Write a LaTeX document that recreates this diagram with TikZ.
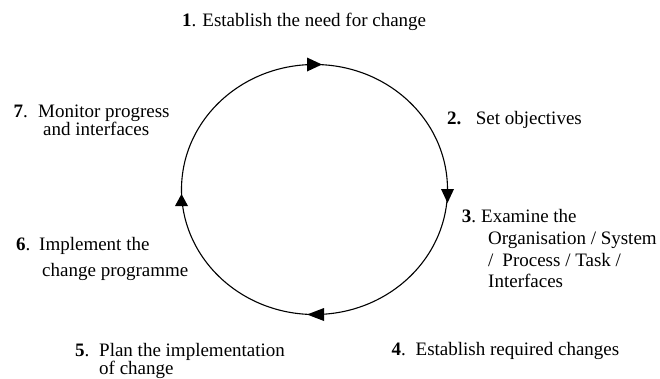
\documentclass[tikz,border=0pt]{standalone}
\usepackage{fontspec}
\setmainfont{Liberation Serif}
\begin{document}
\begin{tikzpicture}[x=1pt,y=-1pt,
  lbl/.style={anchor=base west, inner sep=0pt, font=\fontsize{19}{22}\selectfont},
  cyc/.style={line width=1.1pt},
  tip/.style={fill=black}]
\useasboundingbox (0,0) rectangle (660,378);
\coordinate (c) at (314.5,189.5);
\draw[cyc] (c) ellipse [x radius=133, y radius=125];
% arrowheads
\coordinate (t) at (314.5,64.5);
\coordinate (r) at (447.5,196);
\coordinate (b) at (315.5,314.5);
\coordinate (l) at (181.5,200);
\fill[tip] ([shift={(-7.5,-7)}]t) -- ([shift={(7.5,0)}]t) -- ([shift={(-7.5,7)}]t) -- cycle;
\fill[tip] ([shift={(-6.5,-7)}]r) -- ([shift={(6.5,-7)}]r) -- ([shift={(0,7)}]r) -- cycle;
\fill[tip] ([shift={(8.5,-6.5)}]b) -- ([shift={(8.5,6.5)}]b) -- ([shift={(-8.5,0)}]b) -- cycle;
\fill[tip] ([shift={(-6.5,6)}]l) -- ([shift={(6.5,6)}]l) -- ([shift={(0,-6)}]l) -- cycle;
% labels
\node[lbl] (s1) at (182,26.5) {\textbf{1}.\hspace{6pt}Establish the need for change};
\node[lbl] (s2) at (447,124.5) {\textbf{2.}\hspace{14.3pt}Set objectives};
\node[lbl] (s3a) at (461.7,222) {\textbf{3}.\hspace{5pt}Examine the};
\node[lbl] (s3b) at (488,244) {Organisation / System};
\node[lbl] (s3c) at (488,266) {/\hspace{9pt}Process / Task /};
\node[lbl] (s3d) at (488,287.5) {Interfaces};
\node[lbl] (s4) at (391.4,355.5) {\textbf{4}.\hspace{9.8pt}Establish required changes};
\node[lbl] (s5a) at (75,356) {\textbf{5}.\hspace{9.75pt}Plan the implementation};
\node[lbl] (s5b) at (99,374) {of change};
\node[lbl] (s6a) at (16,250) {\textbf{6}.\hspace{8.75pt}Implement the};
\node[lbl] (s6b) at (42,276) {change programme};
\node[lbl] (s7a) at (13.5,117) {\textbf{7}.\hspace{10.25pt}Monitor progress};
\node[lbl] (s7b) at (43,135) {and interfaces};
\end{tikzpicture}
\end{document}
